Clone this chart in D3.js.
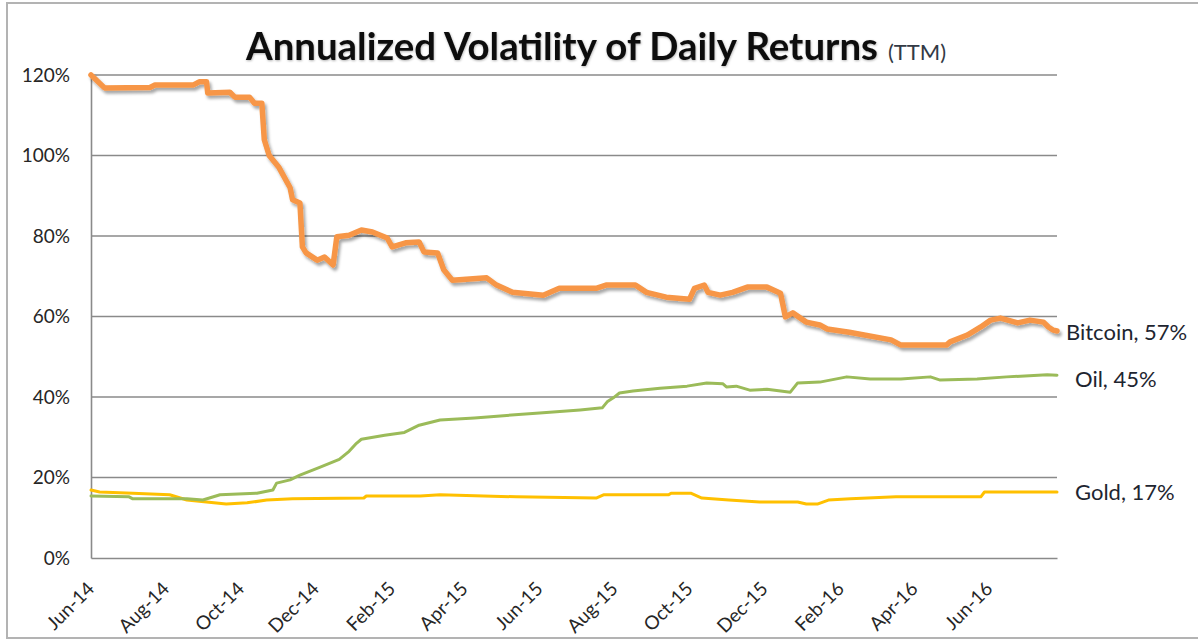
<!DOCTYPE html>
<html>
<head>
<meta charset="utf-8">
<script src="https://cdnjs.cloudflare.com/ajax/libs/d3/7.8.5/d3.min.js"></script>
<style>
    body { margin: 0; background: #ffffff; }
    svg { display: block; font-family: Lato, "Open Sans", sans-serif; }
</style>
</head>
<body>
<svg id="svgid" width="1198" height="640"></svg>
<script>
// values in percent
var btcDates = ["2014-06-01","2014-06-12","2014-07-19","2014-07-23","2014-08-23","2014-08-28","2014-09-03","2014-09-04",
    "2014-09-22","2014-09-26","2014-10-08","2014-10-12","2014-10-18","2014-10-20","2014-10-24","2014-11-01","2014-11-10",
    "2014-11-12","2014-11-18","2014-11-20","2014-11-23","2014-12-02","2014-12-08","2014-12-15","2014-12-18","2014-12-28",
    "2015-01-07","2015-01-16","2015-01-28","2015-02-01","2015-02-12","2015-02-23","2015-02-27","2015-03-10","2015-03-15",
    "2015-03-22","2015-04-19","2015-04-27","2015-05-10","2015-06-04","2015-06-17","2015-07-17","2015-07-25","2015-08-18",
    "2015-08-27","2015-09-12","2015-10-01","2015-10-05","2015-10-13","2015-10-16","2015-10-26","2015-11-05","2015-11-17",
    "2015-12-03","2015-12-14","2015-12-18","2015-12-24","2016-01-04","2016-01-15","2016-01-21","2016-02-08","2016-03-13",
    "2016-03-21","2016-04-27","2016-04-30","2016-05-14","2016-05-25","2016-06-02","2016-06-10","2016-06-24","2016-07-04",
    "2016-07-15","2016-07-19","2016-07-23","2016-07-26"];
var btcValues = [120, 116.8, 116.9, 117.5, 117.5, 118.3, 118.3, 115.5,
    115.7, 114.5, 114.5, 113, 113, 103.9, 100, 97, 92,
    89, 88.2, 77.3, 75.8, 74, 74.8, 72.8, 79.8, 80.2,
    81.5, 81, 79.5, 77.3, 78.3, 78.5, 76, 75.8, 71.6,
    69, 69.6, 67.8, 66, 65.3, 67, 67, 67.8, 67.8,
    66, 64.8, 64.3, 67, 67.8, 66, 65.3, 66, 67.3,
    67.3, 65.8, 59.9, 60.9, 58.6, 57.9, 56.9, 56.1, 54.2,
    52.9, 52.9, 53.7, 55.4, 57.4, 59.1, 59.6, 58.4, 59.1,
    58.6, 57.4, 56.6, 56.4];

var oilDates = ["2014-06-01","2014-07-02","2014-07-05","2014-08-18","2014-08-31","2014-09-14","2014-10-14","2014-10-27",
    "2014-10-30","2014-11-10","2014-11-18","2014-12-04","2014-12-20","2014-12-28","2015-01-03","2015-01-07","2015-01-26",
    "2015-02-11","2015-02-23","2015-03-12","2015-04-09","2015-04-30","2015-06-01","2015-07-04","2015-07-22","2015-07-26",
    "2015-07-31","2015-08-05","2015-08-16","2015-09-07","2015-09-29","2015-10-15","2015-10-28","2015-10-31","2015-11-08",
    "2015-11-19","2015-12-03","2015-12-22","2015-12-28","2016-01-15","2016-02-06","2016-02-25","2016-03-21","2016-04-14",
    "2016-04-22","2016-05-22","2016-06-15","2016-07-18","2016-07-26"];
var oilValues = [15.4, 15.2, 14.7, 14.7, 14.4, 15.7, 16.1, 16.9,
    18.6, 19.4, 20.6, 22.5, 24.5, 26.5, 28.5, 29.5, 30.5,
    31.2, 33, 34.3, 34.8, 35.3, 36, 36.8, 37.3, 38.8,
    39.8, 41, 41.5, 42.2, 42.7, 43.5, 43.3, 42.5, 42.7,
    41.7, 41.9, 41.2, 43.5, 43.7, 45, 44.5, 44.5, 45,
    44.2, 44.5, 45, 45.5, 45.4];

var goldDates = ["2014-06-01","2014-06-08","2014-07-05","2014-08-04","2014-08-18","2014-09-03","2014-09-19","2014-10-06",
    "2014-10-22","2014-11-12","2015-01-09","2015-01-11","2015-02-24","2015-03-12","2015-05-13","2015-07-17","2015-07-23",
    "2015-09-14","2015-09-16","2015-10-02","2015-10-11","2015-11-02","2015-11-27","2015-12-28","2016-01-04","2016-01-13",
    "2016-01-22","2016-02-09","2016-03-17","2016-04-08","2016-05-25","2016-05-28","2016-07-26"];
var goldValues = [16.9, 16.4, 16.1, 15.7, 14.4, 13.9, 13.4, 13.7,
    14.4, 14.7, 14.9, 15.4, 15.4, 15.7, 15.2, 14.9, 15.7,
    15.7, 16.1, 16.1, 14.9, 14.4, 13.9, 13.9, 13.4, 13.4,
    14.4, 14.7, 15.2, 15.2, 15.2, 16.4, 16.4];

var seriesNames = ["Gold", "Oil", "Bitcoin"];
var endLabels = ["Gold, 17%", "Oil, 45%", "Bitcoin, 57%"];
var yTicks = [0, 20, 40, 60, 80, 100, 120];
var xTickLabels = ["Jun-14","Aug-14","Oct-14","Dec-14","Feb-15","Apr-15","Jun-15",
    "Aug-15","Oct-15","Dec-15","Feb-16","Apr-16","Jun-16"];
var titleMain = "Annualized Volatility of Daily Returns",
    titleSub = "(TTM)";

var svg = d3.select("svg"),
    parseDay = d3.timeParse("%Y-%m-%d"),
    parseTick = d3.timeParse("%b-%y"),
    plotLeft = 91, plotRight = 1057, plotTop = 75, plotBottom = 558,
    x, y, drawFrame, drawTitle, drawAxes, drawLines, drawLabels,
    colors = { Gold: "#ffc000", Oil: "#9bbb59", Bitcoin: "#f79646" },
    widths = { Gold: 3, Oil: 3, Bitcoin: 5.5 },
    labelShift = { Gold: [18, 0], Oil: [18, 4], Bitcoin: [9, 1] },
    series;

series = [
    { name: "Gold", dates: goldDates, values: goldValues },
    { name: "Oil", dates: oilDates, values: oilValues },
    { name: "Bitcoin", dates: btcDates, values: btcValues }
].map(function (s, i) {
    return {
        name: seriesNames[i],
        label: endLabels[i],
        points: s.dates.map(function (d, j) { return { date: parseDay(d), value: s.values[j] }; })
    };
});

x = d3.scaleTime()
    .domain([parseDay("2014-06-01"), parseDay(btcDates[btcDates.length - 1])])
    .range([plotLeft, plotRight]);
y = d3.scaleLinear().domain([0, 120]).range([plotBottom, plotTop]);

drawFrame = function () {
    var defs = svg.append("defs");
    var f = defs.append("filter").attr("id", "shadow")
        .attr("x", "-5%").attr("y", "-5%").attr("width", "110%").attr("height", "120%");
    f.append("feDropShadow").attr("dx", 2).attr("dy", 3).attr("stdDeviation", 1.8)
        .attr("flood-color", "#000").attr("flood-opacity", 0.35);
    var g = defs.append("filter").attr("id", "glow");
    g.append("feDropShadow").attr("dx", 0.5).attr("dy", 1).attr("stdDeviation", 1)
        .attr("flood-color", "#000").attr("flood-opacity", 0.3);

    svg.append("rect")
        .attr("x", 7).attr("y", 3).attr("width", 1200).attr("height", 635)
        .attr("style", "fill:white;stroke:#b3b3b3;stroke-width:2");
};

drawTitle = function () {
    var t = svg.append("text")
        .attr("x", 246).attr("y", 60)
        .attr("style", "font-size:34px;font-weight:700;fill:#0d0d0d")
        .attr("filter", "url(#glow)")
        .text(titleMain);
    // fit the title to the width it has in the original
    var w = t.node().getComputedTextLength(),
        size = 34 * 632 / w;
    t.style("font-size", size + "px");
    w = t.node().getComputedTextLength();
    svg.append("text")
        .attr("x", 246 + w + 10).attr("y", 60)
        .attr("style", "font-size:22px;fill:#333a45")
        .text(titleSub);
};

drawAxes = function () {
    svg.append("g").selectAll("line")
        .data(yTicks.filter(function (d) { return d > 0; }))
        .join("line")
        .attr("x1", plotLeft).attr("x2", plotRight)
        .attr("y1", function (d) { return y(d); }).attr("y2", function (d) { return y(d); })
        .attr("style", "stroke:#8a8a8a;stroke-width:1.6");

    var ya = svg.append("g")
        .attr("transform", "translate(" + plotLeft + ",0)")
        .call(d3.axisLeft(y).tickValues(yTicks).tickSize(0).tickPadding(21)
            .tickFormat(function (d) { return d + "%"; }));
    ya.select(".domain").attr("style", "stroke:#8a8a8a;stroke-width:1.6");
    ya.selectAll("text")
        .attr("style", "font-family:Lato,sans-serif;font-size:19px;fill:#262626");

    var xa = svg.append("g")
        .attr("transform", "translate(0," + plotBottom + ")")
        .call(d3.axisBottom(x).tickValues(xTickLabels.map(parseTick)).tickSize(0)
            .tickFormat(d3.timeFormat("%b-%y")));
    xa.select(".domain").attr("style", "stroke:#8a8a8a;stroke-width:1.6");
    xa.selectAll("text")
        .attr("x", 4).attr("y", 32).attr("dy", 0)
        .attr("text-anchor", "end")
        .attr("transform", "rotate(-45,4,32)")
        .attr("style", "font-family:Lato,sans-serif;font-size:19px;fill:#262626");
};

drawLines = function () {
    var line = d3.line()
        .x(function (d) { return x(d.date); })
        .y(function (d) { return y(d.value); });

    svg.append("g").selectAll("path")
        .data(series)
        .join("path")
        .attr("d", function (s) { return line(s.points); })
        .attr("fill", "none")
        .attr("stroke", function (s) { return colors[s.name]; })
        .attr("stroke-width", function (s) { return widths[s.name]; })
        .attr("stroke-linejoin", "round")
        .attr("stroke-linecap", "round")
        .attr("filter", function (s) { return s.name === "Bitcoin" ? "url(#shadow)" : null; });
};

drawLabels = function () {
    svg.append("g").selectAll("text")
        .data(series)
        .join("text")
        .attr("x", function (s) { return plotRight + labelShift[s.name][0]; })
        .attr("y", function (s) { return y(s.points[s.points.length - 1].value) + labelShift[s.name][1]; })
        .attr("dy", "0.36em")
        .attr("style", "font-size:22px;fill:#1e2530")
        .text(function (s) { return s.label; });
};

drawFrame();
drawTitle();
drawAxes();
drawLines();
drawLabels();
</script>
</body>
</html>
